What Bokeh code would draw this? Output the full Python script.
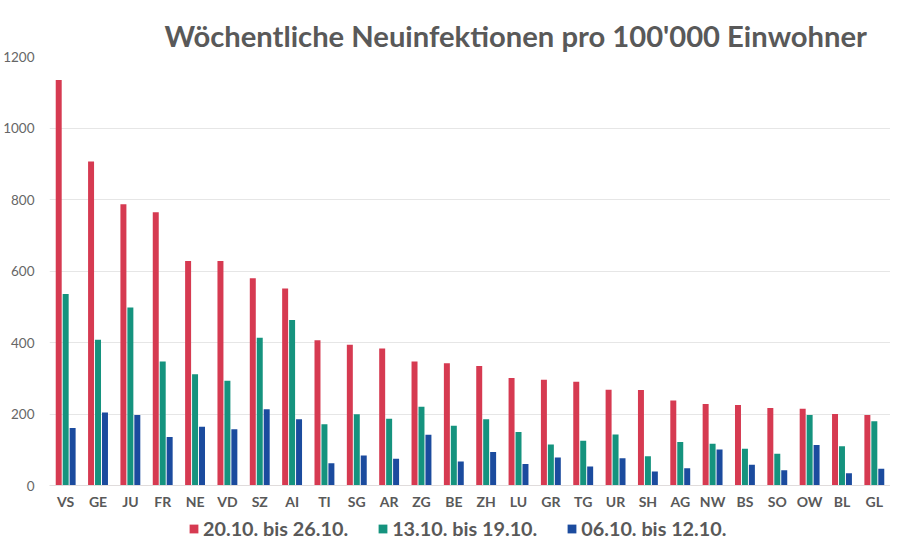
from bokeh.plotting import figure
from bokeh.layouts import column
from bokeh.models import ColumnDataSource, Legend, LegendItem, Range1d, FactorRange, Title, SingleIntervalTicker
from bokeh.transform import dodge
from bokeh.embed import file_html
from bokeh.resources import INLINE

cantons = ["VS", "GE", "JU", "FR", "NE", "VD", "SZ", "AI", "TI", "SG", "AR", "ZG", "BE",
           "ZH", "LU", "GR", "TG", "UR", "SH", "AG", "NW", "BS", "SO", "OW", "BL", "GL"]
week_20_26 = [1134, 906, 787, 764, 628, 628, 580, 551, 406, 394, 383, 347, 342,
              334, 301, 296, 290, 268, 267, 238, 228, 225, 217, 215, 200, 197]
week_13_19 = [536, 408, 498, 347, 311, 293, 413, 463, 171, 199, 187, 220, 167,
              185, 150, 115, 125, 143, 82, 122, 117, 103, 89, 197, 110, 180]
week_06_12 = [161, 204, 197, 136, 164, 157, 213, 185, 62, 84, 75, 142, 67,
              94, 60, 78, 53, 76, 39, 48, 101, 58, 43, 113, 34, 47]
series_labels = ["20.10. bis 26.10.", "13.10. bis 19.10.", "06.10. bis 12.10."]
colors = ["#d63a51", "#15937e", "#1b4b9e"]

src = ColumnDataSource(dict(cat=cantons, a=week_20_26, b=week_13_19, c=week_06_12))

FONT = "Lato"
GRAY = "#595959"

p = figure(frame_width=841, frame_height=429, x_range=FactorRange(*cantons, range_padding=0),
           y_range=Range1d(0, 1200), output_backend="svg", toolbar_location=None,
           min_border_left=47, min_border_right=0, min_border_top=56, min_border_bottom=20)

title = Title(text="Wöchentliche Neuinfektionen pro 100'000 Einwohner", align="left",
              offset=115, text_font=FONT, text_font_size="29.2px", text_font_style="bold",
              text_color=GRAY, standoff=8)
p.add_layout(title, "above")

bw = 0.185
off = 0.215
renderers = []
for key, dx, col in zip(["a", "b", "c"], [-off, 0, off], colors):
    r = p.vbar(x=dodge("cat", dx, range=p.x_range), top=key, width=bw, source=src,
               fill_color=col, line_color=None)
    renderers.append(r)

p.yaxis.ticker = SingleIntervalTicker(interval=200)
p.yaxis.axis_line_color = None
p.yaxis.major_tick_line_color = None
p.yaxis.minor_tick_line_color = None
p.yaxis.major_label_text_font = FONT
p.yaxis.major_label_text_font_size = "13.5px"
p.yaxis.major_label_text_color = "#666666"
p.yaxis.major_label_standoff = 9

p.xaxis.axis_line_color = "#e0dcdc"
p.xaxis.major_tick_line_color = None
p.xaxis.minor_tick_line_color = None
p.xaxis.major_label_text_font = FONT
p.xaxis.major_label_text_font_size = "14px"
p.xaxis.major_label_text_font_style = "bold"
p.xaxis.major_label_text_color = GRAY
p.xaxis.major_label_standoff = 1

p.xgrid.grid_line_color = None
p.ygrid.grid_line_color = "#e6e6e6"
p.outline_line_color = None
p.border_fill_color = "white"

# legend strip below the chart
p2 = figure(width=888, height=33, x_range=Range1d(0, 1), y_range=Range1d(0, 1),
            output_backend="svg", toolbar_location=None,
            min_border_left=0, min_border_right=0, min_border_top=0, min_border_bottom=0)
p2.axis.visible = False
p2.grid.visible = False
p2.outline_line_color = None
leg_src = ColumnDataSource(dict(x=[5.0], top=[0.0]))
leg_renderers = []
for col in colors:
    leg_renderers.append(p2.vbar(x="x", top="top", width=0.1, source=leg_src,
                                 fill_color=col, line_color=None))

legend = Legend(items=[LegendItem(label=l, renderers=[r]) for l, r in zip(series_labels, leg_renderers)],
                orientation="horizontal", location=(139, 5),
                label_text_font=FONT, label_text_font_size="19.8px", label_text_font_style="bold",
                label_text_color=GRAY, glyph_width=11, glyph_height=11, spacing=29,
                label_standoff=4, border_line_color=None, background_fill_alpha=0,
                padding=0, margin=0)
p2.add_layout(legend, "center")

layout = column(p, p2, spacing=0)
open("out.html", "w").write(file_html(layout, INLINE))
